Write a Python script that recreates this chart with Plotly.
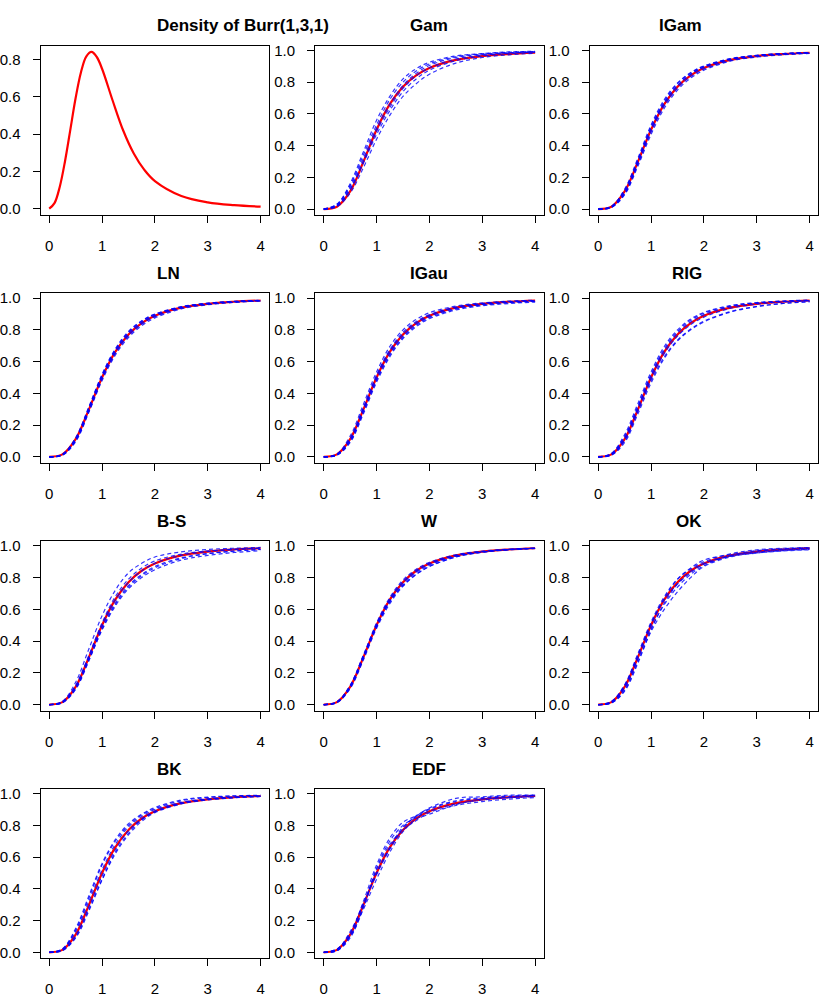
import plotly.graph_objects as go

# x grid used for every curve
x_cdf = [0, 0.25, 0.5, 0.75, 1, 1.25, 1.5, 1.75, 2, 2.5, 3, 3.5, 4]
x_pdf = [0, 0.1, 0.2, 0.3, 0.4, 0.5, 0.6, 0.7, 0.8, 0.9, 1.0, 1.2, 1.4,
         1.6, 1.8, 2.0, 2.5, 3.0, 3.5, 4.0]

# density of Burr(1,3,1)
burr_pdf = [0, 0.030, 0.118, 0.256, 0.424, 0.593, 0.730, 0.815, 0.840,
            0.813, 0.750, 0.580, 0.419, 0.296, 0.208, 0.148, 0.068,
            0.034, 0.019, 0.011]

# true cdf (red line in every other panel)
burr_cdf = [0, 0.015, 0.111, 0.297, 0.5, 0.661, 0.771, 0.843, 0.889,
            0.940, 0.964, 0.977, 0.985]

titles = ["Gam", "IGam", "LN", "IGau", "RIG", "B-S", "W", "OK", "BK", "EDF"]

# estimated cdfs (blue dashed), one block per panel
gam = [
    [0, 0.03, 0.15, 0.34, 0.53, 0.69, 0.80, 0.87, 0.915, 0.96, 0.978, 0.988, 0.992],
    [0, 0.02, 0.12, 0.29, 0.47, 0.62, 0.74, 0.82, 0.875, 0.935, 0.965, 0.98, 0.988],
    [0, 0.025, 0.14, 0.32, 0.51, 0.66, 0.78, 0.855, 0.905, 0.955, 0.975, 0.985, 0.99],
    [0, 0.015, 0.10, 0.26, 0.44, 0.59, 0.71, 0.79, 0.85, 0.92, 0.955, 0.972, 0.982],
    [0, 0.03, 0.16, 0.36, 0.56, 0.71, 0.82, 0.885, 0.925, 0.965, 0.98, 0.99, 0.994],
    [0, 0.02, 0.13, 0.30, 0.49, 0.64, 0.76, 0.84, 0.89, 0.945, 0.97, 0.983, 0.99],
]
igam = [
    [0, 0.012, 0.10, 0.29, 0.50, 0.665, 0.775, 0.848, 0.893, 0.943, 0.966, 0.978, 0.985],
    [0, 0.018, 0.125, 0.32, 0.53, 0.69, 0.795, 0.86, 0.902, 0.948, 0.969, 0.98, 0.986],
    [0, 0.010, 0.09, 0.27, 0.47, 0.635, 0.75, 0.825, 0.875, 0.932, 0.958, 0.972, 0.981],
    [0, 0.014, 0.11, 0.30, 0.51, 0.67, 0.78, 0.85, 0.895, 0.944, 0.967, 0.979, 0.986],
    [0, 0.016, 0.12, 0.31, 0.52, 0.68, 0.79, 0.857, 0.90, 0.946, 0.968, 0.98, 0.986],
    [0, 0.011, 0.095, 0.28, 0.485, 0.65, 0.762, 0.835, 0.882, 0.936, 0.961, 0.975, 0.983],
]
ln = [
    [0, 0.012, 0.105, 0.295, 0.50, 0.66, 0.77, 0.842, 0.888, 0.94, 0.964, 0.977, 0.985],
    [0, 0.016, 0.12, 0.315, 0.52, 0.68, 0.79, 0.858, 0.90, 0.946, 0.968, 0.979, 0.986],
    [0, 0.010, 0.095, 0.28, 0.48, 0.64, 0.752, 0.826, 0.875, 0.932, 0.958, 0.973, 0.982],
    [0, 0.014, 0.112, 0.305, 0.51, 0.67, 0.78, 0.85, 0.894, 0.943, 0.966, 0.978, 0.985],
    [0, 0.011, 0.10, 0.285, 0.49, 0.65, 0.762, 0.835, 0.882, 0.937, 0.961, 0.975, 0.983],
    [0, 0.015, 0.115, 0.31, 0.515, 0.675, 0.785, 0.855, 0.898, 0.945, 0.967, 0.979, 0.986],
]
igau = [
    [0, 0.012, 0.10, 0.29, 0.49, 0.65, 0.76, 0.835, 0.882, 0.935, 0.96, 0.973, 0.981],
    [0, 0.018, 0.13, 0.33, 0.535, 0.695, 0.80, 0.866, 0.908, 0.95, 0.97, 0.981, 0.987],
    [0, 0.010, 0.09, 0.27, 0.47, 0.63, 0.745, 0.82, 0.87, 0.925, 0.952, 0.966, 0.975],
    [0, 0.015, 0.115, 0.31, 0.515, 0.675, 0.785, 0.852, 0.896, 0.944, 0.966, 0.978, 0.985],
    [0, 0.014, 0.11, 0.30, 0.505, 0.665, 0.775, 0.845, 0.89, 0.941, 0.965, 0.977, 0.984],
    [0, 0.011, 0.095, 0.28, 0.48, 0.64, 0.752, 0.828, 0.876, 0.93, 0.956, 0.97, 0.979],
]
rig = [
    [0, 0.02, 0.13, 0.32, 0.52, 0.68, 0.79, 0.86, 0.905, 0.95, 0.97, 0.98, 0.986],
    [0, 0.012, 0.10, 0.285, 0.48, 0.63, 0.735, 0.805, 0.855, 0.915, 0.948, 0.967, 0.978],
    [0, 0.016, 0.12, 0.31, 0.51, 0.67, 0.78, 0.85, 0.896, 0.945, 0.967, 0.979, 0.985],
    [0, 0.014, 0.11, 0.30, 0.495, 0.65, 0.76, 0.832, 0.88, 0.935, 0.962, 0.976, 0.984],
    [0, 0.022, 0.14, 0.335, 0.535, 0.695, 0.80, 0.868, 0.91, 0.953, 0.972, 0.982, 0.988],
    [0, 0.010, 0.09, 0.27, 0.465, 0.62, 0.73, 0.80, 0.85, 0.912, 0.946, 0.966, 0.977],
]
bs = [
    [0, 0.02, 0.14, 0.35, 0.56, 0.72, 0.83, 0.89, 0.93, 0.962, 0.977, 0.985, 0.99],
    [0, 0.012, 0.10, 0.28, 0.47, 0.62, 0.73, 0.80, 0.85, 0.91, 0.94, 0.958, 0.97],
    [0, 0.015, 0.115, 0.30, 0.50, 0.66, 0.77, 0.842, 0.89, 0.94, 0.964, 0.977, 0.985],
    [0, 0.013, 0.105, 0.29, 0.485, 0.64, 0.75, 0.82, 0.87, 0.925, 0.952, 0.968, 0.978],
    [0, 0.017, 0.12, 0.31, 0.515, 0.68, 0.79, 0.86, 0.905, 0.948, 0.968, 0.979, 0.986],
    [0, 0.011, 0.095, 0.275, 0.475, 0.63, 0.74, 0.812, 0.862, 0.92, 0.95, 0.966, 0.977],
]
wei = [
    [0, 0.015, 0.115, 0.30, 0.505, 0.665, 0.775, 0.845, 0.89, 0.94, 0.964, 0.977, 0.985],
    [0, 0.018, 0.12, 0.31, 0.50, 0.65, 0.75, 0.82, 0.87, 0.93, 0.96, 0.976, 0.985],
    [0, 0.012, 0.10, 0.28, 0.48, 0.635, 0.745, 0.82, 0.87, 0.93, 0.96, 0.975, 0.984],
    [0, 0.016, 0.12, 0.31, 0.515, 0.675, 0.785, 0.853, 0.897, 0.944, 0.967, 0.979, 0.986],
    [0, 0.014, 0.11, 0.295, 0.495, 0.655, 0.765, 0.838, 0.885, 0.938, 0.963, 0.977, 0.985],
    [0, 0.013, 0.105, 0.29, 0.49, 0.645, 0.755, 0.83, 0.878, 0.934, 0.961, 0.976, 0.984],
]
ok = [
    [0, 0.02, 0.12, 0.31, 0.51, 0.66, 0.76, 0.83, 0.885, 0.935, 0.965, 0.978, 0.985],
    [0, 0.01, 0.09, 0.27, 0.46, 0.60, 0.71, 0.80, 0.87, 0.93, 0.955, 0.97, 0.978],
    [0, 0.015, 0.11, 0.30, 0.50, 0.67, 0.79, 0.86, 0.91, 0.945, 0.96, 0.975, 0.98],
    [0, 0.012, 0.10, 0.285, 0.48, 0.63, 0.74, 0.82, 0.875, 0.94, 0.97, 0.982, 0.988],
    [0, 0.018, 0.125, 0.32, 0.52, 0.68, 0.79, 0.855, 0.90, 0.95, 0.975, 0.985, 0.99],
    [0, 0.01, 0.085, 0.26, 0.47, 0.64, 0.76, 0.84, 0.89, 0.935, 0.955, 0.968, 0.975],
]
bk = [
    [0, 0.02, 0.14, 0.34, 0.55, 0.70, 0.80, 0.865, 0.905, 0.955, 0.975, 0.985, 0.988],
    [0, 0.012, 0.095, 0.27, 0.46, 0.63, 0.75, 0.835, 0.885, 0.938, 0.962, 0.975, 0.982],
    [0, 0.018, 0.13, 0.32, 0.52, 0.68, 0.79, 0.855, 0.90, 0.945, 0.967, 0.978, 0.985],
    [0, 0.014, 0.105, 0.285, 0.48, 0.645, 0.765, 0.84, 0.89, 0.94, 0.965, 0.978, 0.985],
    [0, 0.022, 0.15, 0.355, 0.56, 0.71, 0.81, 0.87, 0.912, 0.96, 0.978, 0.986, 0.99],
    [0, 0.01, 0.09, 0.26, 0.455, 0.62, 0.74, 0.825, 0.88, 0.935, 0.96, 0.974, 0.982],
]
edf = [
    [0, 0.01, 0.11, 0.32, 0.55, 0.72, 0.82, 0.86, 0.91, 0.97, 0.98, 0.99, 0.99],
    [0, 0.02, 0.10, 0.27, 0.46, 0.63, 0.76, 0.84, 0.87, 0.93, 0.965, 0.975, 0.985],
    [0, 0.015, 0.13, 0.30, 0.50, 0.66, 0.79, 0.855, 0.90, 0.95, 0.97, 0.98, 0.99],
    [0, 0.01, 0.09, 0.28, 0.52, 0.68, 0.77, 0.83, 0.88, 0.925, 0.95, 0.965, 0.975],
    [0, 0.02, 0.12, 0.31, 0.49, 0.65, 0.78, 0.86, 0.905, 0.955, 0.975, 0.985, 0.99],
    [0, 0.01, 0.10, 0.29, 0.53, 0.70, 0.80, 0.85, 0.89, 0.935, 0.96, 0.975, 0.98],
]
estimates = [gam, igam, ln, igau, rig, bs, wei, ok, bk, edf]

W, H = 830, 997
col_left = [35, 311.5, 588]
row_top = [42, 292, 542, 792]
box_w, box_h = 230, 171
FONT = "Liberation Sans, Arial, sans-serif"

fig = go.Figure()


def add_axes(i, col, row, yrange, yticks):
    x0 = col_left[col] / W
    x1 = (col_left[col] + box_w) / W
    y1 = 1 - row_top[row] / H
    y0 = 1 - (row_top[row] + box_h) / H
    sfx = "" if i == 1 else str(i)
    common = dict(showline=True, linecolor="black", linewidth=1.3, mirror=True,
                  ticks="outside", ticklen=7, tickwidth=1.3, tickcolor="black",
                  showgrid=False, zeroline=False,
                  tickfont=dict(family=FONT, size=15, color="black"))
    fig.layout["xaxis" + sfx] = dict(domain=[x0, x1], range=[-0.16, 4.16],
                                     tickvals=[0, 1, 2, 3, 4], anchor="y" + sfx,
                                     ticklabelstandoff=10, **common)
    fig.layout["yaxis" + sfx] = dict(domain=[y0, y1], range=yrange,
                                     tickvals=yticks, tickformat=".1f",
                                     anchor="x" + sfx, ticklabelstandoff=9,
                                     **common)
    return "x" + sfx, "y" + sfx, (x0 + x1) / 2, y1


titles_all = ["Density of Burr(1,3,1)"] + titles
for i, title in enumerate(titles_all):
    row, col = divmod(i, 3)
    if i == 0:
        xa, ya, cx, top = add_axes(1, col, row, [-0.034, 0.874],
                                   [0, 0.2, 0.4, 0.6, 0.8])
        fig.add_trace(go.Scatter(x=x_pdf, y=burr_pdf, mode="lines",
                                 line=dict(color="red", width=2.2, shape="spline"),
                                 xaxis=xa, yaxis=ya))
    else:
        xa, ya, cx, top = add_axes(i + 1, col, row, [-0.038, 1.03],
                                   [0, 0.2, 0.4, 0.6, 0.8, 1.0])
        fig.add_trace(go.Scatter(x=x_cdf, y=burr_cdf, mode="lines",
                                 line=dict(color="red", width=2.2, shape="spline"),
                                 xaxis=xa, yaxis=ya))
        for est in estimates[i - 1]:
            fig.add_trace(go.Scatter(x=x_cdf, y=est, mode="lines",
                                     line=dict(color="blue", width=1.2, dash="4px,3px",
                                               shape="spline"),
                                     opacity=0.8, xaxis=xa, yaxis=ya))
    fig.add_annotation(text="<b>" + title + "</b>", x=cx, y=top + 20 / H,
                       xref="paper", yref="paper", showarrow=False,
                       yanchor="middle",
                       font=dict(family=FONT, size=17, color="black"))

fig.update_layout(width=W, height=H, autosize=False, showlegend=False,
                  margin=dict(l=0, r=0, t=0, b=0),
                  paper_bgcolor="white", plot_bgcolor="white")

# drop the default page margin so the figure sits at the window corner
fig.write_html("out.html", config={"displayModeBar": False},
               post_script="document.body.style.margin='0px';")
